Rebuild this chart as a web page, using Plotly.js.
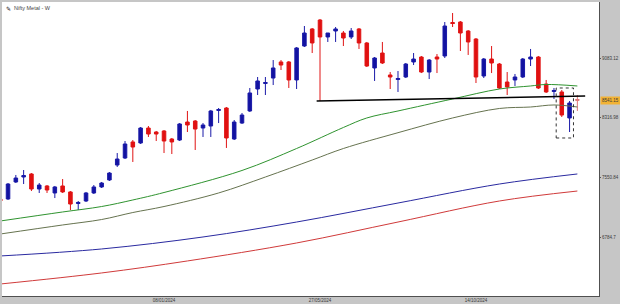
<!DOCTYPE html>
<html><head><meta charset="utf-8">
<script src="https://cdn.plot.ly/plotly-3.0.1.min.js"></script>
<style>html,body{margin:0;padding:0;background:#c4c4c4}#c{width:620px;height:304px}</style>
</head><body><div id="c"></div>
<script>
// Weekly candles, first week starting 2023-08-14
const startWeek = '2023-08-14';
const nWeeks = 75;
const open  = [7273,7273,7491,7555,7594,7401,7440,7350,7440,7363,7215,7247,7350,7427,7517,7709,7799,8005,7992,8184,8133,8146,8043,8030,8261,8274,8184,8210,8409,8441,8043,8248,8403,8685,8756,8826,9032,9032,8801,9237,9456,9571,9353,9430,9404,9353,9456,9276,8955,9147,8865,8807,8839,9032,9096,8903,9096,9109,9539,9545,9430,9327,8852,9070,9006,8775,8801,8839,9070,9096,8749,8653,8647,8313,8550];
const high  = [7298,7478,7581,7645,7606,7478,7452,7440,7529,7375,7247,7363,7452,7491,7619,7863,8017,8030,8197,8210,8146,8158,8056,8248,8403,8287,8248,8416,8441,8454,8287,8377,8698,8839,8839,9057,9057,9045,9224,9494,9468,9584,9404,9481,9430,9468,9468,9289,9096,9289,8903,8916,9019,9147,9109,9070,9134,9545,9661,9558,9442,9340,9083,9237,9019,8903,8878,9083,9199,9109,8801,8698,8672,8531,8608];
const low   = [7221,7260,7478,7465,7375,7350,7350,7285,7350,7131,7131,7234,7337,7414,7504,7684,7786,7748,7979,8069,8017,7863,7850,8017,8133,7902,8069,8069,8248,7928,8030,8236,8390,8608,8608,8736,8929,8698,8685,9224,9147,8531,9289,9289,9237,9327,9199,8968,8788,9006,8685,8647,8826,8993,8890,8813,8890,9083,9481,9173,9122,8762,8826,8890,8685,8608,8724,8826,8980,8685,8634,8557,8326,8133,8403];
const close = [7247,7465,7542,7574,7401,7452,7388,7427,7363,7208,7228,7350,7427,7478,7606,7786,7979,7940,8184,8107,8107,8017,8005,8236,8223,8171,8223,8403,8422,8056,8261,8351,8634,8788,8768,8955,8993,8801,9212,9404,9276,9353,9404,9456,9340,9430,9276,8980,9083,9019,8839,8820,9006,9070,8903,9057,9070,9494,9526,9404,9289,8839,9070,9019,8698,8711,8839,9070,9096,8698,8647,8666,8351,8505,8541.15];

// Moving averages, read at candle indices (index -1 = first week)
const maGreenIdx = [-1,7,12,16,20,30,37,43,46,50,57,63,67,69,73];
const maGreen    = [6990,7106,7176,7260,7356,7639,7921,8191,8313,8403,8557,8685,8724,8743,8724];
const maOliveIdx = [-1,7,12,16,20,27,33,39,43,50,57,63,67,70,73];
const maOlive    = [6823,6939,7009,7099,7176,7350,7555,7773,7921,8124,8313,8435,8454,8480,8454];
const maBlueIdx  = [-1,12,25,37,50,63,73];
const maBlue     = [6541,6631,6785,6977,7221,7465,7594];
const maRedIdx   = [-1,12,23,37,50,63,73];
const maRed      = [6181,6323,6477,6708,6977,7247,7375];

// Trend line and highlight box
const trendX = ['2024-05-24','2025-01-20'];
const trendY = [8531, 8595];
const boxX = ['2024-12-25','2025-01-09 12:00'];
const boxY = [8056, 8698];

const yTickVals = [9083.12, 8316.98, 7550.84, 6784.7];
const yTickText = ['9083.12','8316.98','7550.84','6784.7'];
const xTickVals = ['2024-01-08','2024-05-27','2024-10-14'];
const xTickText = ['08/01/2024','27/05/2024','14/10/2024'];
const lastPrice = 8541.15;

const weeks = [];
const t0 = Date.parse(startWeek + 'T00:00:00Z');
for (let k = 0; k < nWeeks; k++) weeks.push(new Date(t0 + k*7*864e5).toISOString().slice(0,10));
const wx = idx => idx.map(k => weeks[k+1]);

const n = weeks.length;
const traces = [
  {type:'scatter',mode:'lines',x:wx(maRedIdx),y:maRed,line:{color:'#d03a3a',width:1,shape:'spline'},hoverinfo:'skip'},
  {type:'scatter',mode:'lines',x:wx(maBlueIdx),y:maBlue,line:{color:'#2a2aa0',width:1,shape:'spline'},hoverinfo:'skip'},
  {type:'scatter',mode:'lines',x:wx(maOliveIdx),y:maOlive,line:{color:'#66734f',width:1,shape:'spline'},hoverinfo:'skip'},
  {type:'scatter',mode:'lines',x:wx(maGreenIdx),y:maGreen,line:{color:'#2f932f',width:1,shape:'spline'},hoverinfo:'skip'},
  {type:'candlestick',x:weeks.slice(0,n-1),open:open.slice(0,n-1),high:high.slice(0,n-1),low:low.slice(0,n-1),close:close.slice(0,n-1),
   increasing:{line:{color:'#1a1aa8',width:1},fillcolor:'#1212a0'},
   decreasing:{line:{color:'#e01414',width:1},fillcolor:'#e01010'},whiskerwidth:0,hoverinfo:'skip'},
  {type:'candlestick',x:weeks.slice(n-1),open:open.slice(n-1),high:high.slice(n-1),low:low.slice(n-1),close:close.slice(n-1),
   increasing:{line:{color:'#e07878',width:1},fillcolor:'#e07878'},
   decreasing:{line:{color:'#e07878',width:1},fillcolor:'#e07878'},whiskerwidth:0,hoverinfo:'skip'},
  {type:'scatter',mode:'lines',x:trendX,y:trendY,line:{color:'#000000',width:1.5},hoverinfo:'skip'}
];

const tf = {family:'Liberation Sans, Arial, sans-serif',size:4.5,color:'#3a3a3a'};
const layout = {
  width:620,height:304,
  margin:{l:2,r:21,t:2,b:8,pad:0},
  paper_bgcolor:'#c6c6c6',plot_bgcolor:'#ffffff',
  showlegend:false,boxgap:0.35,
  font:tf,
  xaxis:{type:'date',range:['2023-08-15 14:00','2025-02-01 10:00'],rangeslider:{visible:false},
    tickvals:xTickVals,ticktext:xTickText,ticks:'',showgrid:false,zeroline:false,
    showline:true,linecolor:'#505050',linewidth:1,tickfont:tf,fixedrange:true},
  yaxis:{side:'right',range:[6027.1,9802.2],tickvals:yTickVals,ticktext:yTickText,
    ticks:'outside',ticklen:1,tickcolor:'#555',showgrid:false,zeroline:false,
    showline:true,linecolor:'#505050',linewidth:1,tickfont:tf,fixedrange:true},
  shapes:[{type:'rect',xref:'x',yref:'y',x0:boxX[0],x1:boxX[1],y0:boxY[0],y1:boxY[1],
    line:{color:'#333',width:1,dash:'dot'},fillcolor:'rgba(0,0,0,0)'}],
  annotations:[
    {xref:'paper',yref:'paper',x:0.004,y:0.997,xanchor:'left',yanchor:'top',showarrow:false,
     text:'✎',font:{family:'DejaVu Sans',size:6,color:'#222'}},
    {xref:'paper',yref:'paper',x:0.016,y:0.997,xanchor:'left',yanchor:'top',showarrow:false,
     text:'Nifty Metal - W',font:{family:'Liberation Sans, Arial, sans-serif',size:5.5,color:'#444'}},
    {xref:'paper',yref:'y',x:1.002,y:lastPrice,xanchor:'left',yanchor:'middle',showarrow:false,
     text:lastPrice.toFixed(2),bgcolor:'#f2b233',borderpad:1,font:tf}
  ]
};
Plotly.newPlot('c',traces,layout,{displayModeBar:false,staticPlot:true});
</script></body></html>
